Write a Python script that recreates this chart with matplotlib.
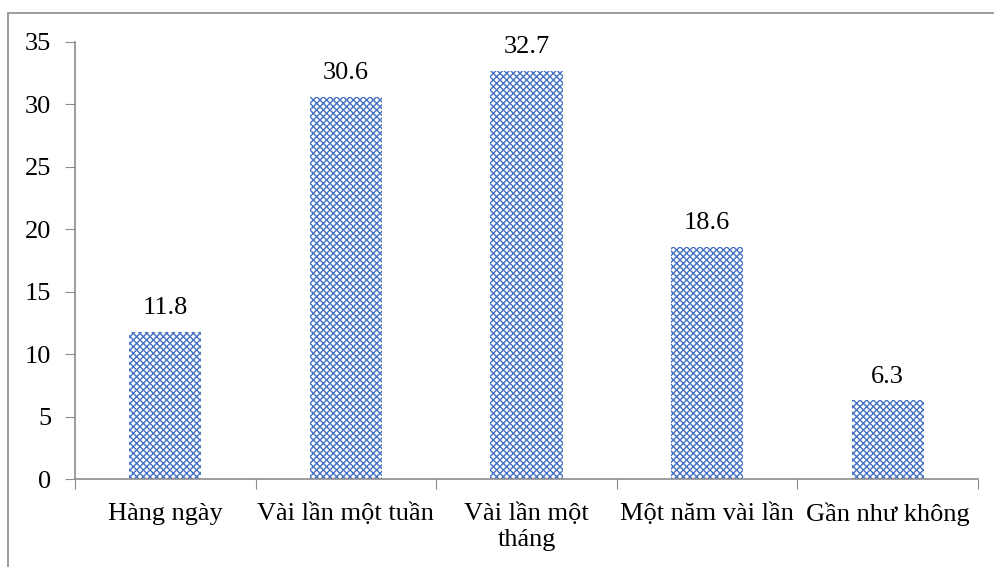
import matplotlib
matplotlib.use("Agg")
import numpy as np
from matplotlib import pyplot as plt
from matplotlib.patches import Rectangle

categories = ["Hàng ngày", "Vài lần một tuần", "Vài lần một\ntháng", "Một năm vài lần", "Gần như không"]
values = [11.8, 30.6, 32.7, 18.6, 6.3]
y_ticks = [0, 5, 10, 15, 20, 25, 30, 35]

plt.rcParams["font.family"] = ["Liberation Serif", "DejaVu Serif"]
plt.rcParams["hatch.linewidth"] = 1.0
plt.rcParams["hatch.color"] = "#4472C4"

W, H = 995, 567
fig = plt.figure(figsize=(W / 100, H / 100), dpi=100)

# outer chart border (only top and left visible in the crop)
fig.patches.append(Rectangle((8 / W, -0.1), 1.2, 1 - 13 / H + 0.1, transform=fig.transFigure,
                             fill=False, edgecolor="#8c8c8c", linewidth=1.2))

ax = fig.add_axes([75 / W, 1 - 479 / H, (978 - 75) / W, (479 - 42) / H])
x = np.arange(len(categories))
bars = ax.bar(x, values, width=0.4, color="white", hatch="xxxxx", linewidth=0)

for b, v in zip(bars, values):
    ax.text(b.get_x() + b.get_width() / 2, v + 1.0, f"{v:.1f}", ha="center", va="bottom", fontsize=19)

ax.set_xlim(-0.5, len(categories) - 0.5)
ax.set_ylim(0, 35)
ax.set_yticks(y_ticks)
ax.tick_params(axis="y", labelsize=19, length=7, color="#8c8c8c", pad=10)

ax.set_xticks(np.arange(len(categories) + 1) - 0.5)
ax.set_xticklabels([])
ax.tick_params(axis="x", which="major", length=7, color="#8c8c8c")
ax.set_xticks(x, minor=True)
ax.set_xticklabels(categories, minor=True, fontsize=19)
ax.tick_params(axis="x", which="minor", length=0, pad=17)

for s in ["top", "right"]:
    ax.spines[s].set_visible(False)
for s in ["left", "bottom"]:
    ax.spines[s].set_color("#8c8c8c")
    ax.spines[s].set_linewidth(1.2)

fig.savefig("out.png", dpi=100)
